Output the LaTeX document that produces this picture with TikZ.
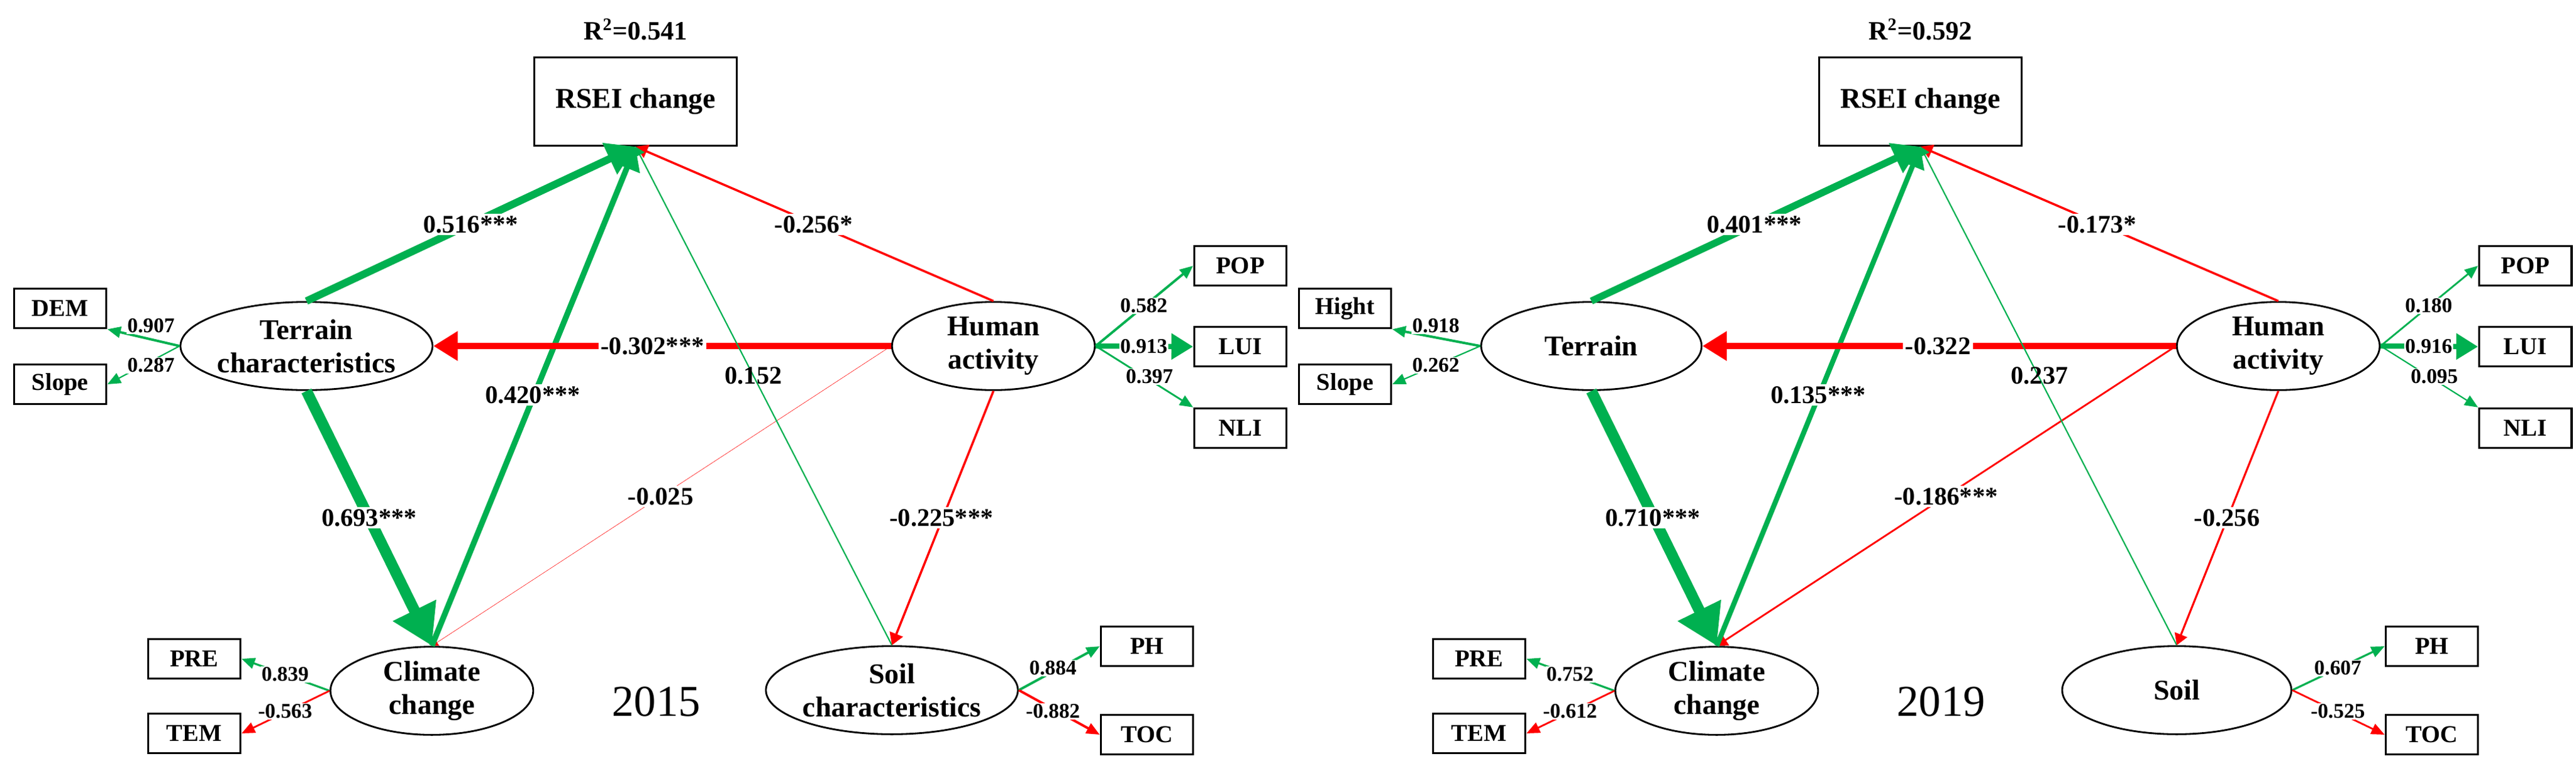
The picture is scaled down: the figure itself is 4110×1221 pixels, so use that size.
\documentclass[tikz,border=0pt]{standalone}
\usepackage{fontspec}
\setmainfont{Liberation Serif}
\usetikzlibrary{arrows.meta,shapes.geometric}
\definecolor{gr}{HTML}{00B050}
\definecolor{rd}{HTML}{FF0000}
\begin{document}
\begin{tikzpicture}[x=0.01cm,y=-0.01cm,
 box/.style={draw,line width=0.9pt,minimum width=#1,inner sep=0pt,font=\fontsize{11}{12}\selectfont\bfseries},
 box/.default={42pt},
 ell/.style={draw,ellipse,line width=0.8pt,align=center,inner sep=0pt,font=\fontsize{13}{15}\selectfont\bfseries},
 lab/.style={fill=white,inner sep=1pt,font=\fontsize{11.5}{12}\selectfont\bfseries},
 sl/.style={fill=white,inner sep=0.5pt,font=\fontsize{9.5}{10}\selectfont\bfseries},
 g/.style={draw=gr,line width=#1,-{Triangle[]}},
 r/.style={draw=rd,line width=#1,-{Triangle[]}},
 gi/.style={draw=gr,line width=#1,-{Triangle[length=6pt,width=5pt]}},
 ri/.style={draw=rd,line width=#1,-{Triangle[length=6pt,width=5pt]}},
]
\useasboundingbox (0,0) rectangle (4110,1221);
% ---------------- 2015 ----------------
\node[font=\fontsize{12}{12}\selectfont\bfseries] (r2a) at (1014,47) {R\textsuperscript{2}=0.541};
\node[draw,line width=0.9pt,inner sep=0pt,font=\fontsize{13}{15}\selectfont\bfseries,minimum width=92pt,minimum height=40pt] (Ra) at (1014,162) {RSEI change};
\node[ell,minimum width=100pt,minimum height=40pt] (Ta) at (489,552) {Terrain\\characteristics};
\node[ell,minimum width=92pt,minimum height=40pt] (Ha) at (1585,552) {Human\\activity};
\node[ell,minimum width=92pt,minimum height=40pt] (Ca) at (689,1102) {Climate\\change};
\node[ell,minimum width=104pt,minimum height=40pt] (Sa) at (1423,1101) {Soil\\characteristics};
\node[box,minimum height=18pt] (DEMa) at (96,492) {DEM};
\node[box,minimum height=18pt] (SLa) at (96,613) {Slope};
\node[box,minimum height=18pt] (POPa) at (1979,424) {POP};
\node[box,minimum height=18pt] (LUIa) at (1979,553) {LUI};
\node[box,minimum height=18pt] (NLIa) at (1979,683) {NLI};
\node[box,minimum height=18pt] (PREa) at (310,1051) {PRE};
\node[box,minimum height=18pt] (TEMa) at (310,1170) {TEM};
\node[box,minimum height=18pt] (PHa) at (1830,1031) {PH};
\node[box,minimum height=18pt] (TOCa) at (1830,1172) {TOC};
\node[font=\fontsize{20}{20}\selectfont] (ya) at (1047,1119) {2015};
\draw[r=0.15pt] (Ha.west) -- (Ca.north);
\draw[g=3.4pt] (Ta.north) -- (Ra.south);
\draw[g=2.6pt] (Ca.north) -- (Ra.south);
\draw[g=5pt] (Ta.south) -- (Ca.north);
\draw[r=1pt] (Ha.north) -- (Ra.south);
\draw[r=2.8pt] (Ha.west) -- (Ta.east);
\draw[g=0.6pt] (Sa.north) -- (Ra.south);
\draw[r=1pt] (Ha.south) -- (Sa.north);
\draw[gi=1.1pt] (Ta.west) -- (DEMa.south east);
\draw[gi=0.6pt] (Ta.west) -- (SLa.east);
\draw[gi=1.1pt] (Ha.east) -- (POPa.west);
\draw[g=2.4pt] (Ha.east) -- (LUIa.west);
\draw[gi=0.8pt] (Ha.east) -- (NLIa.north west);
\draw[gi=0.9pt] (Ca.west) -- (PREa.east);
\draw[ri=0.8pt] (Ca.west) -- (TEMa.east);
\draw[gi=1.1pt] (Sa.east) -- (PHa.west);
\draw[ri=1.1pt] (Sa.east) -- (TOCa.west);
\node[lab] at (751,358) {0.516***};
\node[lab] at (1298,358) {-0.256*};
\node[lab] at (1041,552) {-0.302***};
\node[lab,fill=none] at (1202,599) {0.152};
\node[lab] at (850,630) {0.420***};
\node[lab] at (589,826) {0.693***};
\node[lab] at (1054,792) {-0.025};
\node[lab] at (1502,826) {-0.225***};
\node[sl] at (241,520) {0.907};
\node[sl] at (241,583) {0.287};
\node[sl] at (1825,488) {0.582};
\node[sl] at (1825,553) {0.913};
\node[sl] at (1834,601) {0.397};
\node[sl] at (455,1076) {0.839};
\node[sl] at (455,1135) {-0.563};
\node[sl] at (1680,1066) {0.884};
\node[sl] at (1680,1135) {-0.882};
% ---------------- 2019 ----------------
\begin{scope}[xshift=2050*0.01cm]
\node[font=\fontsize{12}{12}\selectfont\bfseries] (r2b) at (1014,47) {R\textsuperscript{2}=0.592};
\node[draw,line width=0.9pt,inner sep=0pt,font=\fontsize{13}{15}\selectfont\bfseries,minimum width=92pt,minimum height=40pt] (Rb) at (1014,162) {RSEI change};
\node[ell,minimum width=100pt,minimum height=40pt] (Tb) at (489,552) {Terrain};
\node[ell,minimum width=92pt,minimum height=40pt] (Hb) at (1585,552) {Human\\activity};
\node[ell,minimum width=92pt,minimum height=40pt] (Cb) at (689,1102) {Climate\\change};
\node[ell,minimum width=104pt,minimum height=40pt] (Sb) at (1423,1101) {Soil};
\node[box,minimum height=18pt] (DEMb) at (96,492) {Hight};
\node[box,minimum height=18pt] (SLb) at (96,613) {Slope};
\node[box,minimum height=18pt] (POPb) at (1979,424) {POP};
\node[box,minimum height=18pt] (LUIb) at (1979,553) {LUI};
\node[box,minimum height=18pt] (NLIb) at (1979,683) {NLI};
\node[box,minimum height=18pt] (PREb) at (310,1051) {PRE};
\node[box,minimum height=18pt] (TEMb) at (310,1170) {TEM};
\node[box,minimum height=18pt] (PHb) at (1830,1031) {PH};
\node[box,minimum height=18pt] (TOCb) at (1830,1172) {TOC};
\node[font=\fontsize{20}{20}\selectfont] (yb) at (1047,1119) {2019};
\draw[r=0.8pt] (Hb.west) -- (Cb.north);
\draw[g=3.2pt] (Tb.north) -- (Rb.south);
\draw[g=2.3pt] (Cb.north) -- (Rb.south);
\draw[g=5pt] (Tb.south) -- (Cb.north);
\draw[r=1pt] (Hb.north) -- (Rb.south);
\draw[r=2.8pt] (Hb.west) -- (Tb.east);
\draw[g=0.6pt] (Sb.north) -- (Rb.south);
\draw[r=0.9pt] (Hb.south) -- (Sb.north);
\draw[gi=1.1pt] (Tb.west) -- (DEMb.south east);
\draw[gi=0.6pt] (Tb.west) -- (SLb.east);
\draw[gi=0.8pt] (Hb.east) -- (POPb.west);
\draw[g=2.4pt] (Hb.east) -- (LUIb.west);
\draw[gi=0.6pt] (Hb.east) -- (NLIb.north west);
\draw[gi=0.9pt] (Cb.west) -- (PREb.east);
\draw[ri=0.8pt] (Cb.west) -- (TEMb.east);
\draw[gi=0.9pt] (Sb.east) -- (PHb.west);
\draw[ri=0.8pt] (Sb.east) -- (TOCb.west);
\node[lab] at (749,358) {0.401***};
\node[lab] at (1296,358) {-0.173*};
\node[lab] at (1042,552) {-0.322};
\node[lab,fill=none] at (1204,599) {0.237};
\node[lab] at (851,630) {0.135***};
\node[lab] at (587,826) {0.710***};
\node[lab] at (1055,792) {-0.186***};
\node[lab] at (1503,826) {-0.256};
\node[sl] at (241,520) {0.918};
\node[sl] at (241,583) {0.262};
\node[sl] at (1825,488) {0.180};
\node[sl] at (1825,553) {0.916};
\node[sl] at (1834,601) {0.095};
\node[sl] at (455,1076) {0.752};
\node[sl] at (455,1135) {-0.612};
\node[sl] at (1680,1066) {0.607};
\node[sl] at (1680,1135) {-0.525};
\end{scope}
\end{tikzpicture}
\end{document}
